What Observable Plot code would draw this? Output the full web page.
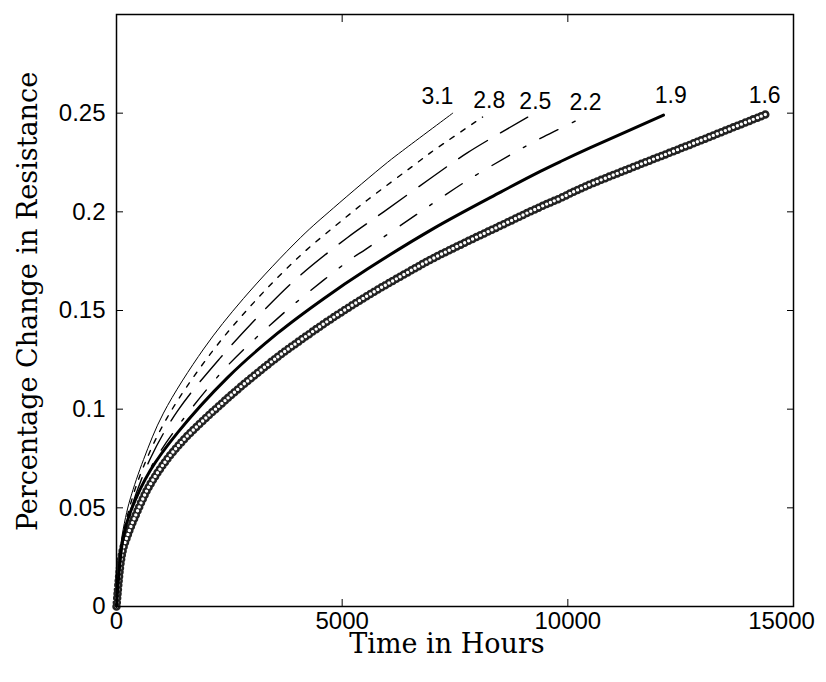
<!DOCTYPE html>
<html>
<head>
<meta charset="utf-8">
<script src="https://cdn.jsdelivr.net/npm/d3@7"></script>
<script src="https://cdn.jsdelivr.net/npm/@observablehq/plot@0.6"></script>
<style>
  html, body { margin: 0; padding: 0; background: #ffffff; }
  #chart svg { display: block; }
</style>
</head>
<body>
<div id="chart"></div>
<script>
// ---- Data ----
const hours31 = [0, 100, 200, 310, 600, 1040, 1930, 2810, 4080, 4810, 6000, 6340, 7450];
const pct31   = [0, 0.032, 0.045, 0.055, 0.0745, 0.098, 0.1305, 0.156, 0.187, 0.202, 0.225, 0.231, 0.250];

const hours28 = [0, 100, 300, 600, 1130, 2080, 3040, 4080, 5070, 5560, 6670, 6960, 8110];
const pct28   = [0, 0.030, 0.051, 0.071, 0.096, 0.128, 0.154, 0.178, 0.197, 0.206, 0.225, 0.230, 0.248];

const hours25 = [0, 100, 300, 750, 1350, 2300, 3350, 4080, 5120, 5920, 6960, 7780, 9110];
const pct25   = [0, 0.029, 0.048, 0.075, 0.099, 0.126, 0.152, 0.168, 0.187, 0.200, 0.217, 0.230, 0.248];

const hours22 = [0, 100, 300, 750, 1350, 2460, 3570, 4080, 5190, 5520, 6670, 6960, 7780, 8890, 9460, 10170];
const pct22   = [0, 0.028, 0.046, 0.070, 0.091, 0.122, 0.146, 0.156, 0.176, 0.181, 0.199, 0.2035, 0.216, 0.231, 0.238, 0.246];

const hours19 = [0, 155, 310, 750, 1350, 2460, 3570, 4590, 5560, 7020, 8510, 9390, 9840, 10500, 12120];
const pct19   = [0, 0.036, 0.048, 0.069, 0.088, 0.116, 0.1385, 0.156, 0.171, 0.1915, 0.210, 0.2205, 0.2255, 0.2325, 0.249];

const hours16 = [0, 90, 155, 245, 310, 400, 750, 1350, 2460, 3570, 4080, 4740, 5560, 6290, 7020, 8510, 9390, 9840, 10350, 12870, 14450];
const pct16   = [0, 0.022, 0.030, 0.036, 0.040, 0.045, 0.062, 0.081, 0.1055, 0.1265, 0.135, 0.1455, 0.1575, 0.1672, 0.1765, 0.193, 0.2025, 0.207, 0.2125, 0.2355, 0.250];

const seriesLabels = ["3.1", "2.8", "2.5", "2.2", "1.9", "1.6"];
const labelHours   = [7110, 8260, 9280, 10390, 12280, 14360];
const labelPct     = [0.2586, 0.2566, 0.2556, 0.2551, 0.2591, 0.2591];

const xTicks = [0, 5000, 10000, 15000];
const xTickLabels = ["0", "5000", "10000", "15000"];
const yTicks = [0, 0.05, 0.1, 0.15, 0.2, 0.25];
const yTickLabels = ["0", "0.05", "0.1", "0.15", "0.2", "0.25"];

const xTitle = "Time in Hours";
const yTitle = "Percentage Change in Resistance";

// ---- Build tables ----
const toRows = (h, p) => h.map((t, i) => ({t, v: p[i]}));
const s31 = toRows(hours31, pct31);
const s28 = toRows(hours28, pct28);
const s25 = toRows(hours25, pct25);
const s22 = toRows(hours22, pct22);
const s19 = toRows(hours19, pct19);
const s16 = toRows(hours16, pct16);
const labelRows = seriesLabels.map((s, i) => ({s, t: labelHours[i], v: labelPct[i]}));

const sansFont = "'Liberation Sans', Arial, sans-serif";
const serifFont = "'DejaVu Serif', serif";
const curve = "catmull-rom";

const chart = Plot.plot({
  width: 826,
  height: 682,
  marginLeft: 116,
  marginRight: 33,
  marginTop: 14,
  marginBottom: 76,
  style: {background: "#ffffff", color: "#000000", fontFamily: sansFont},
  x: {domain: [0, 15000]},
  y: {domain: [0, 0.3]},
  marks: [
    // 1.6 series: chain of ring markers
    Plot.line(s16, {x: "t", y: "v", curve, stroke: "#222222", strokeWidth: 8.5, strokeDasharray: "0,4.3", strokeLinecap: "round"}),
    Plot.line(s16, {x: "t", y: "v", curve, stroke: "#ffffff", strokeWidth: 3.4, strokeDasharray: "0,4.3", strokeLinecap: "round"}),
    Plot.line(s31, {x: "t", y: "v", curve, stroke: "#000", strokeWidth: 1}),
    Plot.line(s28, {x: "t", y: "v", curve, stroke: "#000", strokeWidth: 1.4, strokeDasharray: "5,8"}),
    Plot.line(s25, {x: "t", y: "v", curve, stroke: "#000", strokeWidth: 1.4, strokeDasharray: "34,15"}),
    Plot.line(s22, {x: "t", y: "v", curve, stroke: "#000", strokeWidth: 1.4, strokeDasharray: "20,16,3,16"}),
    Plot.line(s19, {x: "t", y: "v", curve, stroke: "#000", strokeWidth: 3}),
    Plot.text(labelRows, {x: "t", y: "v", text: "s", fontSize: 23, fontFamily: sansFont, fill: "#000"}),
    Plot.frame({stroke: "#000", strokeWidth: 1.5}),
    // tick marks (inward) on all four sides
    Plot.axisX({anchor: "bottom", ticks: xTicks, tickFormat: () => "", tickSize: -7, label: null}),
    Plot.axisX({anchor: "top", ticks: xTicks, tickFormat: () => "", tickSize: -7, label: null}),
    Plot.axisY({anchor: "left", ticks: yTicks, tickFormat: () => "", tickSize: -7, label: null}),
    Plot.axisY({anchor: "right", ticks: yTicks, tickFormat: () => "", tickSize: -7, label: null}),
    // tick labels
    Plot.axisX({anchor: "bottom", ticks: xTicks.slice(0, 3), tickFormat: (d, i) => xTickLabels[i], tickSize: 0, tickPadding: 5, fontSize: 24, label: null}),
    Plot.axisX({anchor: "bottom", ticks: xTicks.slice(3), tickFormat: () => xTickLabels[3], tickSize: 0, tickPadding: 5, dx: -12, fontSize: 24, label: null}),
    Plot.axisY({anchor: "left", ticks: yTicks, tickFormat: (d, i) => yTickLabels[i], tickSize: 0, tickPadding: 11, fontSize: 24, label: null}),
    // axis titles
    Plot.text([xTitle], {frameAnchor: "bottom", dx: -8, dy: 46, lineAnchor: "bottom", textAnchor: "middle", fontSize: 27, fontFamily: serifFont, fill: "#000"}),
    Plot.text([yTitle], {frameAnchor: "left", dx: -88, dy: -9, rotate: -90, textAnchor: "middle", fontSize: 27, fontFamily: serifFont, fill: "#000"})
  ]
});

document.getElementById("chart").appendChild(chart);
</script>
</body>
</html>
